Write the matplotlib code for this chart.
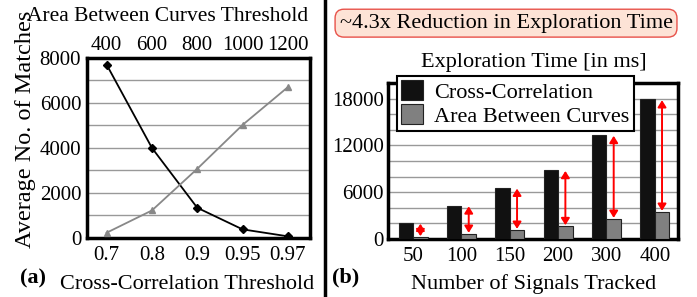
import numpy as np
import matplotlib
matplotlib.use('Agg')
import matplotlib.pyplot as plt

plt.rcParams['font.family'] = ['Liberation Serif', 'DejaVu Serif']
plt.rcParams['font.size'] = 16
plt.rcParams['xtick.labelsize'] = 15
plt.rcParams['ytick.labelsize'] = 15

# panel (a) data
cc_thresholds = ['0.7', '0.8', '0.9', '0.95', '0.97']
abc_thresholds = ['400', '600', '800', '1000', '1200']
cc_matches = [7700, 4000, 1340, 380, 70]
abc_matches = [230, 1220, 3070, 5020, 6700]

# panel (b) data
signals = ['50', '100', '150', '200', '300', '400']
cc_time = [2060, 4290, 6560, 8830, 13330, 17900]
abc_time = [260, 690, 1200, 1670, 2610, 3510]

fig = plt.figure(figsize=(6.97, 2.97), dpi=100)

# ---- (a) matches vs threshold
ax1 = fig.add_axes([0.1244, 0.199, 0.3204, 0.606])
x = np.arange(len(cc_thresholds))
ax1.plot(x, cc_matches, color='black', lw=1.3, marker='D', ms=4, zorder=3)
ax1.plot(x, abc_matches, color='#888888', lw=1.3, marker='^', ms=5, zorder=3)
ax1.set_xlim(-0.44, 4.49)
ax1.set_ylim(0, 8000)
ax1.set_yticks([0, 2000, 4000, 6000, 8000])
ax1.set_yticks(np.arange(0, 8001, 1000), minor=True)
ax1.grid(axis='y', which='both', color='#999999', lw=1)
ax1.set_axisbelow(True)
ax1.set_xticks(x)
ax1.set_xticklabels(cc_thresholds)
ax1.tick_params(axis='x', length=0, pad=5.5)
ax1.tick_params(axis='y', which='both', length=0, pad=4)
for s in ax1.spines.values():
    s.set_linewidth(2.5)

top = ax1.twiny()
top.set_xlim(ax1.get_xlim())
top.set_xticks(x)
top.set_xticklabels(abc_thresholds)
top.tick_params(axis='x', length=0, pad=2)

fig.text(0.2403, 0.943, 'Area Between Curves Threshold', ha='center', va='center',
         fontsize=15.5)
fig.text(0.036, 0.565, 'Average No. of Matches', rotation=90, ha='center', va='center',
         fontsize=17.5)
fig.text(0.268, 0.027, 'Cross-Correlation Threshold', ha='center', va='baseline')
fig.text(0.028, 0.044, '(a)', ha='left', va='baseline', fontweight='bold')

# separator line
fig.add_artist(plt.Line2D([0.467, 0.467], [0.0, 1.0], color='black', lw=2.5))

# ---- (b) exploration time
ax2 = fig.add_axes([0.5567, 0.1953, 0.416, 0.5252])
xb = np.arange(len(signals))
w = 0.3
ax2.bar(xb - w / 2, cc_time, w, color='#111111', edgecolor='#222222', lw=0.8,
        label='Cross-Correlation', zorder=3)
ax2.bar(xb + w / 2, abc_time, w, color='#808080', edgecolor='#222222', lw=0.8,
        label='Area Between Curves', zorder=3)
for i in range(len(signals)):
    ax2.annotate('', xy=(xb[i] + w / 2, abc_time[i] + 100),
                 xytext=(xb[i] + w / 2, cc_time[i] - 100),
                 arrowprops=dict(arrowstyle='<|-|>,head_length=0.4,head_width=0.25',
                                 color='red', lw=1.4, mutation_scale=10,
                                 shrinkA=0, shrinkB=0),
                 zorder=4)
ax2.set_xlim(-0.52, 5.48)
ax2.set_ylim(0, 20000)
ax2.set_yticks([0, 6000, 12000, 18000])
ax2.set_yticks(np.arange(0, 20001, 2000), minor=True)
ax2.grid(axis='y', which='both', color='#999999', lw=1)
ax2.set_axisbelow(True)
ax2.set_xticks(xb)
ax2.set_xticklabels(signals)
ax2.tick_params(axis='x', length=0, pad=5.5)
ax2.tick_params(axis='y', which='both', length=0, pad=3)
for s in ax2.spines.values():
    s.set_linewidth(2.5)

leg = ax2.legend(loc='upper left', bbox_to_anchor=(0.569, 0.744),
                 bbox_transform=fig.transFigure, frameon=True, fancybox=False,
                 framealpha=1, edgecolor='black', borderpad=0.2,
                 handlelength=1.0, handleheight=1.0, handletextpad=0.5,
                 labelspacing=0.05, borderaxespad=0)
leg.get_frame().set_linewidth(1.5)

fig.text(0.766, 0.79, 'Exploration Time [in ms]', ha='center', va='center')
fig.text(0.766, 0.027, 'Number of Signals Tracked', ha='center', va='baseline')
fig.text(0.476, 0.05, '(b)', ha='left', va='baseline', fontweight='bold')
fig.text(0.726, 0.922, '~4.3x Reduction in Exploration Time', ha='center', va='center',
         bbox=dict(boxstyle='round,pad=0.2,rounding_size=0.4', fc='#fde3d6',
                   ec='#e8524a', lw=1.0))

fig.savefig('out.png', dpi=100)
